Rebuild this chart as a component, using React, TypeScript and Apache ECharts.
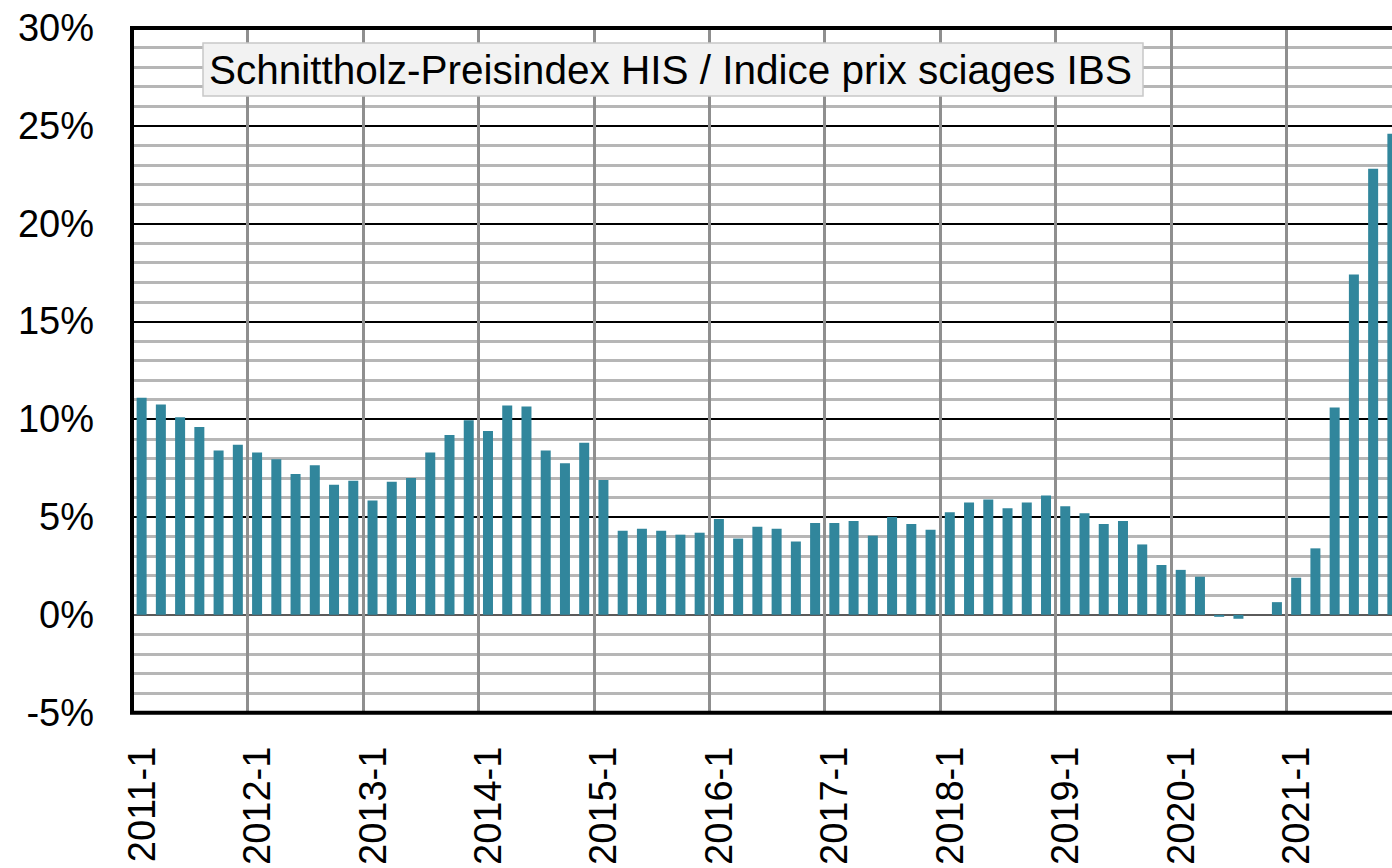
import React, { useEffect, useRef } from "react";
import * as echarts from "echarts";

const years = [2011, 2012, 2013, 2014, 2015, 2016, 2017, 2018, 2019, 2020, 2021];
const months = [1, 3, 5, 7, 9, 11];
const categories: string[] = [];
years.forEach((y) => months.forEach((m) => categories.push(`${y}-${m}`)));

const values2011 = [11.1, 10.75, 10.1, 9.6, 8.4, 8.7];
const values2012 = [8.3, 7.95, 7.2, 7.65, 6.65, 6.85];
const values2013 = [5.85, 6.8, 7.0, 8.3, 9.2, 9.95];
const values2014 = [9.4, 10.7, 10.65, 8.4, 7.75, 8.8];
const values2015 = [6.9, 4.3, 4.4, 4.3, 4.1, 4.2];
const values2016 = [4.9, 3.9, 4.5, 4.4, 3.75, 4.7];
const values2017 = [4.7, 4.8, 4.05, 5.0, 4.65, 4.35];
const values2018 = [5.25, 5.75, 5.9, 5.45, 5.75, 6.1];
const values2019 = [5.55, 5.2, 4.65, 4.8, 3.6, 2.55];
const values2020 = [2.3, 1.95, -0.1, -0.2, 0, 0.65];
const values2021 = [1.9, 3.4, 10.6, 17.4, 22.8, 24.6];

const seriesValues = [
  ...values2011, ...values2012, ...values2013, ...values2014, ...values2015, ...values2016,
  ...values2017, ...values2018, ...values2019, ...values2020, ...values2021,
];

const titleText = "Schnittholz-Preisindex HIS / Indice prix sciages IBS";
const FONT = "'Liberation Sans', Arial, sans-serif";

export default function App() {
  const ref = useRef<HTMLDivElement>(null);
  useEffect(() => {
    if (!ref.current) return;
    const chart = echarts.init(ref.current, undefined, { renderer: "svg" });
    chart.setOption({
      animation: false,
      backgroundColor: "#ffffff",
      grid: {
        left: 132,
        top: 28,
        bottom: 155,
        right: 18,
        show: true,
        borderColor: "#000000",
        borderWidth: 4,
        backgroundColor: "transparent",
        z: 3,
      },
      xAxis: {
        type: "category",
        data: categories,
        boundaryGap: true,
        axisLine: { show: false },
        axisTick: { show: false },
        axisLabel: {
          interval: 5,
          rotate: 90,
          fontSize: 38,
          fontFamily: FONT,
          color: "#000000",
          margin: 34,
        },
        splitLine: {
          show: true,
          interval: 5,
          lineStyle: { color: "#8f8f8f", width: 3 },
        },
      },
      yAxis: {
        type: "value",
        min: -5,
        max: 30,
        interval: 5,
        axisLine: { show: false },
        axisTick: { show: false },
        axisLabel: {
          fontSize: 38,
          fontFamily: FONT,
          color: "#000000",
          margin: 38,
          formatter: (v: number) => `${v}%`,
        },
        splitLine: {
          show: true,
          lineStyle: {
            color: ["#000000", "#5a5a5a", "#000000", "#000000", "#000000", "#000000", "#000000", "#000000"],
            width: 2,
          },
        },
        minorTick: { show: false, splitNumber: 5 },
        minorSplitLine: {
          show: true,
          lineStyle: { color: "#b6b6b6", width: 3 },
        },
      },
      series: [
        {
          type: "bar",
          data: seriesValues,
          barWidth: 10,
          itemStyle: { color: "#31869c" },
          z: 4,
        },
      ],
      graphic: [
        {
          type: "rect",
          x: 203,
          y: 43,
          z: 100,
          shape: { x: 0, y: 0, width: 940, height: 53 },
          style: { fill: "#f2f2f2", stroke: "#c8c8c8", lineWidth: 1.5 },
        },
        {
          type: "text",
          x: 209,
          y: 70,
          z: 101,
          style: {
            text: titleText,
            fontSize: 40.5,
            fontFamily: FONT,
            fill: "#000000",
            verticalAlign: "middle",
            align: "left",
          },
        },
      ],
    });
    return () => chart.dispose();
  }, []);
  return (
    <div style={{ position: "fixed", left: 0, top: 0, width: 1392, height: 868, overflow: "hidden" }}>
      <div ref={ref} style={{ width: 1420, height: 868 }} />
    </div>
  );
}
